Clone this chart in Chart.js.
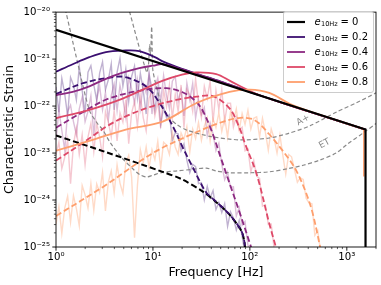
<!DOCTYPE html>
<html>
<head>
<meta charset="utf-8">
<script src="https://cdn.jsdelivr.net/npm/chart.js@4.4.1/dist/chart.umd.min.js"></script>
<style>
  html, body { margin: 0; padding: 0; background: #fff; }
  canvas { display: block; }
</style>
</head>
<body>
<canvas id="c" width="381" height="285"></canvas>
<script>
// ---------- data (log10 frequency [Hz], log10 characteristic strain) ----------
const eccLabels = ['0', '0.2', '0.4', '0.6', '0.8'];
const eccColors = ['#000000', '#3b0f70', '#8c2981', '#de4968', '#fe9f6d'];

const xTickValues = [1, 10, 100, 1000];
const xTickLabels = ['10⁰', '10¹', '10²', '10³'];
const yTickValues = [1e-25, 1e-24, 1e-23, 1e-22, 1e-21, 1e-20];
const yTickLabels = ['10⁻²⁵', '10⁻²⁴', '10⁻²³', '10⁻²²', '10⁻²¹', '10⁻²⁰'];

// e = 0 solid and dashed
const black0LogF = [0, 3.193, 3.193];
const black0LogH = [-20.375, -22.5, -25.2];
const black0dLogF = [0, 0.5, 1.1, 1.3, 1.515, 1.65, 1.79, 1.91, 1.94, 1.955];
const black0dLogH = [-22.625, -22.97, -23.4, -23.56, -23.82, -24.04, -24.31, -24.65, -24.85, -25.1];

// e = 0.2
const e02LogF = [0, 0.172, 0.344, 0.515, 0.687, 0.859, 1.031, 1.1, 1.3, 1.5, 1.7, 1.9, 2.1, 2.6, 3.193];
const e02LogH = [-21.27, -21.11, -20.96, -20.85, -20.82, -20.83, -20.97, -21.05, -21.21, -21.345, -21.48, -21.625, -21.77, -22.11, -22.5];
const e02dLogF = [0, 0.3, 0.6, 0.73, 0.935, 1.07, 1.21, 1.3, 1.41, 1.55, 1.65, 1.79, 1.91, 1.94, 1.955];
const e02dLogH = [-21.74, -21.5, -21.38, -21.39, -21.59, -21.94, -22.45, -22.85, -23.3, -23.84, -24.03, -24.31, -24.65, -24.85, -25.1];

// e = 0.4
const e04LogF = [0, 0.172, 0.344, 0.515, 0.687, 0.859, 1.0, 1.1, 1.3, 1.5, 1.7, 1.9, 2.1, 2.6, 3.193];
const e04LogH = [-21.77, -21.70, -21.58, -21.42, -21.29, -21.19, -21.14, -21.11, -21.22, -21.35, -21.485, -21.625, -21.77, -22.11, -22.5];
const e04dLogF = [0, 0.3, 0.557, 0.9, 1.14, 1.3, 1.415, 1.5, 1.6, 1.7, 1.8, 1.9, 2.02];
const e04dLogH = [-22.46, -22.1, -21.83, -21.66, -21.62, -21.7, -21.85, -22.05, -22.5, -23.1, -23.7, -24.3, -25.05];

// e = 0.6
const e06LogF = [0, 0.344, 0.687, 1.103, 1.3, 1.446, 1.653, 1.8, 1.96, 2.1, 2.6, 3.193];
const e06LogH = [-22.26, -22.08, -21.84, -21.46, -21.33, -21.285, -21.32, -21.47, -21.64, -21.77, -22.11, -22.5];
const e06dLogF = [0, 0.3, 0.557, 0.763, 1.0, 1.24, 1.45, 1.62, 1.79, 1.89, 1.95, 2.07, 2.2, 2.275];
const e06dLogH = [-23.16, -22.75, -22.39, -22.18, -22.0, -21.87, -21.8, -21.79, -22.05, -22.45, -22.8, -23.45, -24.5, -25.05];

// e = 0.8
const e08LogF = [0, 0.36, 0.72, 1.1, 1.446, 1.79, 2.0, 2.2, 2.41, 2.6, 3.175];
const e08LogH = [-22.95, -22.73, -22.5, -22.33, -21.94, -21.70, -21.65, -21.72, -21.95, -22.1, -22.49];
const e08DropLogF = [3.175, 3.175];
const e08DropLogH = [-22.49, -23.5];
const e08dLogF = [0, 0.5, 1.0, 1.4, 1.7, 1.9, 2.05, 2.2, 2.3, 2.4, 2.48, 2.58, 2.65, 2.73];
const e08dLogH = [-24.34, -23.7, -23.0, -22.6, -22.35, -22.25, -22.3, -22.6, -22.85, -23.12, -23.38, -23.85, -24.3, -25.05];

// noisy numerical spectra (shared frequency grid)
const noiseLogF = [0,0.03,0.06,0.09,0.12,0.15,0.18,0.21,0.24,0.27,0.3,0.33,0.36,0.39,0.42,0.45,0.48,0.51,0.54,0.57,
  0.6,0.63,0.66,0.69,0.72,0.75,0.78,0.81,0.84,0.87,0.9,0.93,0.96,0.99,1.02,1.05,1.08,1.11,1.14,1.17,
  1.2,1.23,1.26,1.29,1.32,1.35,1.38,1.41,1.44,1.47,1.5,1.53,1.56,1.59,1.62,1.65,1.68,1.71,1.74,1.77,
  1.8,1.83,1.86,1.89,1.92,1.95,1.98,2.01,2.04,2.07,2.1,2.13,2.16,2.19,2.22,2.25,2.28,2.31,2.34,2.37,
  2.4,2.43,2.46,2.49,2.52,2.55,2.58,2.61,2.64,2.67,2.7,2.73];
const noise02LogH = [-21.59,-22.13,-21.41,-21.74,-22.21,-21.39,-21.55,-21.87,-21.16,-21.67,
  -22.15,-21.28,-21.14,-21.55,-21.88,-21.30,-21.06,-21.65,-21.44,-21.10,
  -22.08,-21.28,-20.98,-21.58,-21.21,-21.90,-21.37,-21.15,-21.83,-21.30,
  -21.67,-22.17,-21.31,-21.65,-22.09,-21.63,-22.39,-22.02,-22.25,-22.18,
  -22.73,-22.57,-22.59,-22.95,-22.80,-23.15,-23.42,-23.24,-23.29,-23.65,
  -23.63,-24.00,-23.71,-23.95,-23.80,-24.20,-24.05,-24.27,-24.08,-24.56,
  -24.25,-24.38,-24.64,-24.43,-24.77,-25.15];
const noise04LogH = [-22.73,-22.08,-22.52,-22.93,-22.12,-21.98,-22.33,-22.61,-22.06,-21.81,
  -22.33,-22.11,-21.78,-22.63,-21.87,-21.57,-22.08,-21.71,-22.29,-21.77,
  -21.53,-22.10,-21.56,-21.85,-22.24,-21.40,-21.63,-21.94,-21.45,-22.05,
  -21.52,-21.72,-21.32,-22.17,-21.61,-21.40,-21.91,-21.35,-21.78,-22.06,
  -21.47,-21.37,-21.89,-21.66,-22.21,-21.51,-21.87,-21.52,-22.26,-21.87,
  -22.18,-22.03,-22.63,-22.36,-22.59,-22.95,-22.79,-23.24,-23.57,-23.41,
  -23.73,-23.72,-24.34,-24.16,-24.54,-24.46,-24.96,-25.1];
const noise06LogH = [-23.04,-22.77,-23.33,-23.09,-22.72,-23.65,-22.81,-22.47,-23.03,-22.61,
  -23.25,-22.66,-22.37,-22.97,-22.36,-22.66,-23.08,-22.12,-22.34,-22.66,
  -22.09,-22.74,-22.14,-22.34,-21.87,-22.80,-22.15,-21.90,-22.43,-21.79,
  -22.25,-22.53,-21.83,-21.68,-22.21,-21.91,-22.47,-21.65,-22.01,-21.55,
  -22.26,-21.75,-22.11,-21.55,-22.46,-21.65,-21.77,-22.11,-21.42,-21.95,
  -22.25,-21.58,-21.84,-21.47,-22.34,-21.67,-22.07,-21.65,-22.32,-21.94,
  -21.94,-22.45,-22.23,-22.51,-22.45,-22.95,-22.91,-23.40,-23.16,-23.49,
  -23.54,-24.13,-24.10,-24.52,-24.51,-25.03,-25.15];
const noise08LogH = [-24.52,-24.14,-24.71,-24.17,-23.92,-24.47,-23.91,-24.18,-24.55,-23.69,
  -23.89,-24.17,-23.65,-24.22,-23.66,-23.84,-23.41,-24.23,-23.62,-23.38,
  -23.85,-23.25,-23.64,-23.86,-23.21,-23.05,-23.51,-24.80,-23.69,-22.93,
  -23.21,-22.87,-23.31,-22.93,-23.14,-22.75,-23.32,-22.77,-22.83,-23.03,
  -22.55,-22.87,-23.03,-22.57,-22.71,-22.44,-22.98,-22.49,-22.69,-22.35,
  -22.73,-22.43,-22.25,-22.74,-22.27,-22.46,-22.14,-22.54,-22.25,-22.66,
  -22.12,-22.32,-22.06,-22.51,-22.16,-22.39,-22.09,-22.49,-22.26,-22.23,
  -22.66,-22.26,-22.56,-22.94,-22.49,-22.69,-23.00,-22.62,-23.05,-23.45,
  -23.03,-23.08,-23.35,-23.62,-23.53,-23.56,-23.96,-24.06,-24.08,-24.75,
  -24.65,-25.1];

// detector sensitivity curves
const etLogF = [0.08, 0.103, 0.22, 0.343, 0.42, 0.48, 0.557, 0.67, 0.79, 0.866, 0.93, 1.0, 1.1, 1.25, 1.4, 1.55, 1.65, 1.79, 2.0, 2.2, 2.4, 2.55, 2.72, 2.89, 3.0, 3.17, 3.31];
const etLogH = [-19.8, -20.0, -21.05, -22.08, -22.35, -22.5, -22.77, -23.08, -23.33, -23.46, -23.51, -23.47, -23.41, -23.38, -23.35, -23.32, -23.38, -23.42, -23.42, -23.4, -23.33, -23.26, -23.15, -23.0, -22.82, -22.57, -22.36];
const aplusLogF = [0.74, 0.935, 0.955, 0.965, 0.975, 0.987, 0.993, 1.0, 1.05, 1.1, 1.17, 1.25, 1.36, 1.6, 1.9, 2.2, 2.4, 2.62, 2.9, 3.1, 3.31];
const aplusLogH = [-19.85, -21.28, -21.1, -20.7, -20.9, -20.31, -20.9, -21.25, -21.7, -22.02, -22.25, -22.4, -22.52, -22.65, -22.72, -22.68, -22.58, -22.42, -22.12, -21.93, -21.71];
const detectorLabels = ['A+', 'ET'];

// ---------- build ----------
function pts(lf, lh) { return lh.map((h, i) => ({ x: Math.pow(10, lf[i]), y: Math.pow(10, h) })); }
function rgba(hex, a) {
  const n = parseInt(hex.slice(1), 16);
  return `rgba(${(n >> 16) & 255},${(n >> 8) & 255},${n & 255},${a})`;
}
const noiseSets = [noise02LogH, noise04LogH, noise06LogH, noise08LogH];
const noiseAlpha = [0.32, 0.3, 0.3, 0.38];
const solidSets = [[e02LogF, e02LogH], [e04LogF, e04LogH], [e06LogF, e06LogH], [e08LogF, e08LogH]];
const dashedSets = [[e02dLogF, e02dLogH], [e04dLogF, e04dLogH], [e06dLogF, e06dLogH], [e08dLogF, e08dLogH]];

const datasets = [];
noiseSets.forEach((arr, i) => datasets.push({
  label: 'noise ' + eccLabels[i + 1], data: pts(noiseLogF, arr),
  borderColor: rgba(eccColors[i + 1], noiseAlpha[i]), borderWidth: 1.4, tension: 0, order: 70 - i
}));
datasets.push({ label: 'A+', data: pts(aplusLogF, aplusLogH), borderColor: '#8a8a8a', borderWidth: 1.2, borderDash: [4, 2.5], tension: 0.25, order: 50 });
datasets.push({ label: 'ET', data: pts(etLogF, etLogH), borderColor: '#8a8a8a', borderWidth: 1.2, borderDash: [4, 2.5], tension: 0.3, order: 50 });
datasets.push({ label: 'e0 dashed', data: pts(black0dLogF, black0dLogH), borderColor: '#000', borderWidth: 2, borderDash: [6, 3], tension: 0.3, order: 41 });
dashedSets.forEach((s, i) => datasets.push({
  label: 'dashed ' + eccLabels[i + 1], data: pts(s[0], s[1]),
  borderColor: eccColors[i + 1], borderWidth: 1.8, borderDash: [6, 3], tension: 0.35, order: 40 - i
}));
solidSets.forEach((s, i) => datasets.push({
  label: 'e=' + eccLabels[i + 1], data: pts(s[0], s[1]),
  borderColor: eccColors[i + 1], borderWidth: 1.8, tension: 0.35, order: 30 - i
}));
datasets.push({ label: 'drop 0.8', data: pts(e08DropLogF, e08DropLogH), borderColor: eccColors[4], borderWidth: 1.5, tension: 0, order: 25 });
datasets.push({ label: 'e=0', data: pts(black0LogF, black0LogH), borderColor: '#000', borderWidth: 2.2, tension: 0, order: 10 });

const FONT = 'DejaVu Sans';

const frameTicks = {
  id: 'frameTicks',
  afterDraw(chart) {
    const { ctx, chartArea: a, scales: { x, y } } = chart;
    ctx.save();
    ctx.strokeStyle = '#000';
    ctx.lineWidth = 0.9;
    ctx.strokeRect(a.left, a.top, a.right - a.left, a.bottom - a.top);
    for (let e = 0; e <= 3; e++) for (let m = 1; m <= 9; m++) {
      const v = m * Math.pow(10, e);
      if (v < x.min || v > x.max) continue;
      const px = x.getPixelForValue(v);
      ctx.lineWidth = m === 1 ? 0.9 : 0.65;
      ctx.beginPath(); ctx.moveTo(px, a.bottom); ctx.lineTo(px, a.bottom + (m === 1 ? 3.7 : 2.1)); ctx.stroke();
    }
    for (let e = -25; e <= -20; e++) for (let m = 1; m <= 9; m++) {
      const v = m * Math.pow(10, e);
      if (v < y.min * 0.999 || v > y.max * 1.001) continue;
      const py = y.getPixelForValue(v);
      ctx.lineWidth = m === 1 ? 0.9 : 0.65;
      ctx.beginPath(); ctx.moveTo(a.left, py); ctx.lineTo(a.left - (m === 1 ? 3.7 : 2.1), py); ctx.stroke();
    }
    // detector labels
    ctx.fillStyle = '#8a8a8a';
    ctx.font = `9px "${FONT}"`;
    ctx.textAlign = 'center'; ctx.textBaseline = 'middle';
    const lblPos = [[Math.pow(10, 2.55), Math.pow(10, -22.3), -0.5], [Math.pow(10, 2.77), Math.pow(10, -22.8), -0.5]];
    detectorLabels.forEach((t, i) => {
      ctx.save();
      ctx.translate(x.getPixelForValue(lblPos[i][0]), y.getPixelForValue(lblPos[i][1]));
      ctx.rotate(lblPos[i][2]);
      ctx.fillText(t, 0, 0);
      ctx.restore();
    });
    ctx.restore();
  }
};

const legendPlugin = {
  id: 'customLegend',
  afterDraw(chart) {
    const { ctx } = chart;
    ctx.save();
    const bx = 283.5, by = 11.5, bw = 90, bh = 81, r = 2.5;
    ctx.beginPath();
    ctx.moveTo(bx + r, by); ctx.lineTo(bx + bw - r, by); ctx.arcTo(bx + bw, by, bx + bw, by + r, r);
    ctx.lineTo(bx + bw, by + bh - r); ctx.arcTo(bx + bw, by + bh, bx + bw - r, by + bh, r);
    ctx.lineTo(bx + r, by + bh); ctx.arcTo(bx, by + bh, bx, by + bh - r, r);
    ctx.lineTo(bx, by + r); ctx.arcTo(bx, by, bx + r, by, r);
    ctx.closePath();
    ctx.fillStyle = 'rgba(255,255,255,0.8)'; ctx.fill();
    ctx.strokeStyle = '#cccccc'; ctx.lineWidth = 1; ctx.stroke();
    eccLabels.forEach((lab, i) => {
      const cy = 22 + i * 15;
      ctx.strokeStyle = eccColors[i]; ctx.lineWidth = i === 0 ? 2.2 : 1.8;
      ctx.beginPath(); ctx.moveTo(287, cy); ctx.lineTo(305, cy); ctx.stroke();
      ctx.fillStyle = '#000'; ctx.textBaseline = 'middle'; ctx.textAlign = 'left';
      let tx = 314.5;
      ctx.font = `italic 10px "${FONT}"`; ctx.fillText('e', tx, cy); tx += ctx.measureText('e').width + 0.3;
      ctx.font = `6.6px "${FONT}"`; ctx.fillText('10Hz', tx, cy + 2.6); tx += ctx.measureText('10Hz').width + 2.8;
      ctx.font = `10px "${FONT}"`; ctx.fillText('= ' + lab, tx, cy);
    });
    ctx.restore();
  }
};

new Chart(document.getElementById('c'), {
  type: 'line',
  data: { datasets },
  options: {
    responsive: false, animation: false, events: [],
    layout: { padding: { top: 7, right: 5, left: 0, bottom: 0 } },
    plugins: { legend: { display: false }, tooltip: { enabled: false } },
    elements: { point: { radius: 0 }, line: { borderCapStyle: 'butt' } },
    scales: {
      x: {
        type: 'logarithmic', min: 1, max: 2000,
        afterFit: s => { s.height = 38; },
        afterBuildTicks: s => { s.ticks = xTickValues.map(v => ({ value: v })); },
        ticks: { autoSkip: false, maxRotation: 0, padding: 4, color: '#000',
          font: { family: FONT, size: 10.2 },
          callback: (v, i) => xTickLabels[i] },
        grid: { display: false, drawTicks: false }, border: { display: false },
        title: { display: true, text: 'Frequency [Hz]', color: '#000', font: { family: FONT, size: 12.6 }, padding: { top: 0, bottom: 5 } }
      },
      y: {
        type: 'logarithmic', min: 1e-25, max: 1e-20,
        afterFit: s => { s.width = 56; },
        afterBuildTicks: s => { s.ticks = yTickValues.map(v => ({ value: v })); },
        ticks: { autoSkip: false, padding: 6, color: '#000',
          font: { family: FONT, size: 10.2 },
          callback: (v, i) => yTickLabels[i] },
        grid: { display: false, drawTicks: false }, border: { display: false },
        title: { display: true, text: 'Characteristic Strain', color: '#000', font: { family: FONT, size: 12.6 }, padding: { top: 2, bottom: 0 } }
      }
    }
  },
  plugins: [frameTicks, legendPlugin]
});
</script>
</body>
</html>
